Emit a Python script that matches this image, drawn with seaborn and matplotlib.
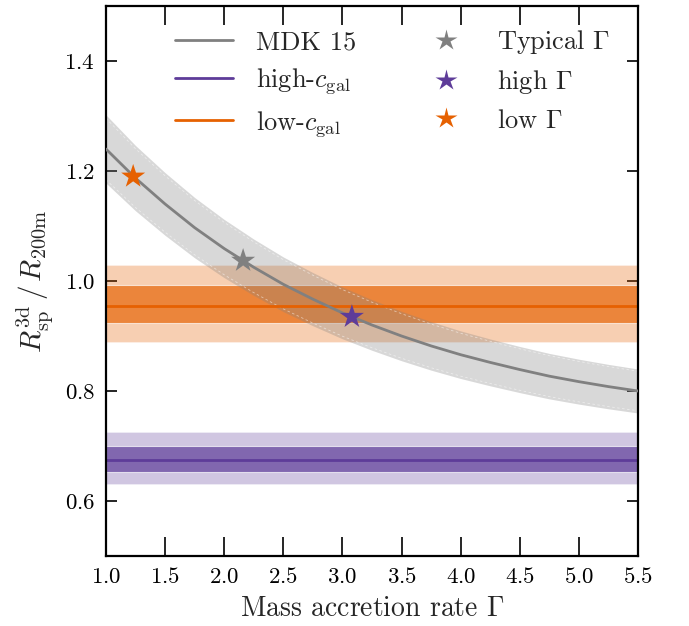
import numpy as np
import pandas as pd
import matplotlib
matplotlib.use("Agg")
import matplotlib.pyplot as plt
import seaborn as sns
from matplotlib.lines import Line2D

# ---------------- data ----------------
gamma = [1.0, 1.25, 1.5, 1.75, 2.0, 2.25, 2.5, 2.75, 3.0, 3.25, 3.5,
         3.75, 4.0, 4.25, 4.5, 4.75, 5.0, 5.25, 5.5]
mdk15 = [1.240, 1.187, 1.140, 1.097, 1.059, 1.025, 0.994, 0.967, 0.942, 0.920,
         0.900, 0.882, 0.866, 0.852, 0.839, 0.827, 0.817, 0.808, 0.800]
mdk15_scatter = 0.05            # fractional width of the grey band

low_c_center = 0.955
low_c_inner = (0.924, 0.993)
low_c_outer = (0.889, 1.029)

high_c_center = 0.675
high_c_inner = (0.653, 0.700)
high_c_outer = (0.631, 0.725)

star_labels = ["Typical $\\Gamma$", "high $\\Gamma$", "low $\\Gamma$"]
star_gamma = [2.16, 3.08, 1.23]
star_R = [1.037, 0.935, 1.190]

line_labels = ["MDK 15", "high-$c_{\\rm gal}$", "low-$c_{\\rm gal}$"]

GREY = "#808080"
PURPLE = "#5e3c99"
ORANGE = "#e66101"

# ---------------- style ----------------
sns.set_theme(style="ticks")
plt.rcParams.update({
    "font.family": "serif",
    "font.serif": ["cmr10"],
    "mathtext.fontset": "cm",
    "axes.formatter.use_mathtext": True,
    "axes.unicode_minus": False,
})

fig = plt.figure(figsize=(6.89, 6.26), dpi=100)
ax = fig.add_axes([0.1538, 0.1118, 0.7722, 0.8786])

xlim = (1.0, 5.5)
xx = np.array(xlim)

# bands for galaxy concentration
ax.fill_between(xx, *low_c_outer, color=ORANGE, alpha=0.30, lw=0.8,
                edgecolor=(1, 1, 1, 0.4), zorder=1)
ax.fill_between(xx, *low_c_inner, color=ORANGE, alpha=0.67, lw=0.8,
                edgecolor=(1, 1, 1, 0.3), zorder=1)
ax.fill_between(xx, *high_c_outer, color=PURPLE, alpha=0.29, lw=0.8,
                edgecolor=(1, 1, 1, 0.4), zorder=1)
ax.fill_between(xx, *high_c_inner, color=PURPLE, alpha=0.69, lw=0.8,
                edgecolor=(1, 1, 1, 0.3), zorder=1)

# MDK15 band
g = np.array(gamma)
m = np.array(mdk15)
ax.fill_between(g, m * (1 - mdk15_scatter), m * (1 + mdk15_scatter),
                color=GREY, alpha=0.30, lw=0, zorder=1.5)
ax.plot(g, m * (1 - 0.9 * mdk15_scatter), color="white", lw=0.6,
        ls=(0, (3, 3)), alpha=0.5, zorder=1.6)
ax.plot(g, m * (1 + 0.9 * mdk15_scatter), color="white", lw=0.6,
        ls=(0, (3, 3)), alpha=0.5, zorder=1.6)

# lines
df = pd.DataFrame({"gamma": gamma, "R": mdk15})
sns.lineplot(data=df, x="gamma", y="R", color=GREY, lw=2.0, ax=ax, zorder=3)
ax.plot(xx, [high_c_center] * 2, color=PURPLE, lw=2.0, zorder=2)
ax.plot(xx, [low_c_center] * 2, color=ORANGE, lw=2.0, zorder=2)

# stars
sdf = pd.DataFrame({"gamma": star_gamma, "R": star_R, "lab": star_labels})
sns.scatterplot(data=sdf, x="gamma", y="R", hue="lab",
                palette=[GREY, PURPLE, ORANGE], marker="*", s=330,
                edgecolor="none", legend=False, ax=ax, zorder=4)

ax.set_xlim(*xlim)
ax.set_ylim(0.5, 1.5)
ax.set_xticks(np.arange(1.0, 5.51, 0.5))
ax.set_yticks([0.6, 0.8, 1.0, 1.2, 1.4])
ax.tick_params(axis="both", direction="in", top=True, right=True,
               labelsize=16.5, width=1.2, pad=8, colors="black")
ax.tick_params(axis="x", length=14)
ax.tick_params(axis="y", length=8)
for sp in ax.spines.values():
    sp.set_linewidth(1.6)
    sp.set_color("black")
    sp.set_visible(True)

ax.set_xlabel("Mass accretion rate $\\Gamma$", fontsize=20, labelpad=6)
ax.set_ylabel("$R_{\\rm sp}^{\\rm 3d}\\,/\\,R_{\\rm 200m}$", fontsize=21,
              labelpad=6)

handles = [Line2D([], [], color=c, lw=2.0) for c in (GREY, PURPLE, ORANGE)]
handles += [Line2D([], [], color=c, marker="*", ls="none", ms=16,
                   markeredgecolor="none") for c in (GREY, PURPLE, ORANGE)]
ax.legend(handles, line_labels + star_labels, ncol=2, frameon=False,
          fontsize=19, loc="upper left", bbox_to_anchor=(0.13, 0.96),
          borderaxespad=0, borderpad=0,
          handlelength=2.2, columnspacing=2.3, labelspacing=0.47,
          handletextpad=0.85)

fig.savefig("out.png", dpi=100)
